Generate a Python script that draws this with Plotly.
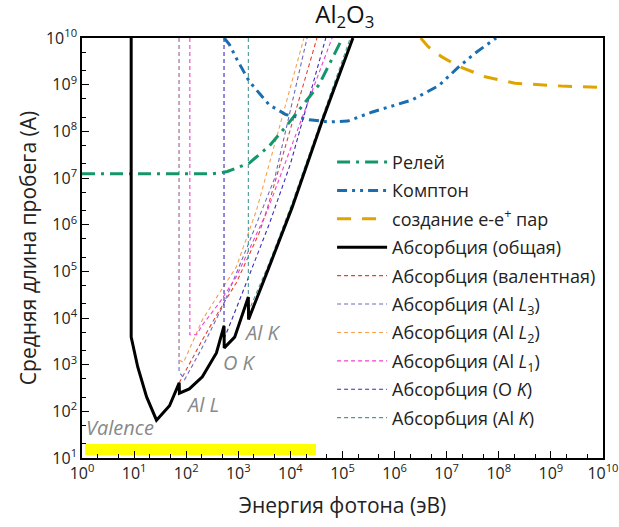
import numpy as np
import plotly.graph_objects as go

# ---- data (log10 of energy in eV, log10 of mean free path in Å) ----
total_logE = [0.944, 0.944, 1.07, 1.24, 1.43, 1.68, 1.866, 1.87, 2.06, 2.31, 2.58, 2.726, 2.73, 2.93, 3.193, 3.197, 3.59, 4.03, 4.61, 5.2]
total_logL = [10.0, 3.59, 2.95, 2.31, 1.81, 2.12, 2.61, 2.39, 2.48, 2.74, 3.25, 3.83, 3.36, 3.59, 4.45, 3.97, 5.09, 6.36, 8.22, 10.0]

rayleigh_logE = [0.0, 2.5, 2.64, 2.79, 3.21, 3.59, 3.92, 4.23, 4.55, 5.0]
rayleigh_logL = [7.09, 7.09, 7.11, 7.14, 7.32, 7.68, 8.11, 8.54, 9.0, 10.0]

compton_logE = [2.73, 2.83, 2.96, 3.21, 3.59, 3.91, 4.36, 4.74, 5.1, 5.56, 6.33, 6.85, 7.23, 7.55, 7.95]
compton_logL = [10.0, 9.86, 9.57, 9.07, 8.57, 8.36, 8.25, 8.20, 8.22, 8.41, 8.67, 8.98, 9.38, 9.68, 10.0]

pair_logE = [6.50, 6.65, 6.9, 7.23, 7.74, 8.31, 9.2, 10.0]
pair_logL = [10.0, 9.81, 9.6, 9.39, 9.17, 9.03, 8.97, 8.94]

val_logE = [1.866, 2.31, 2.64, 2.96, 3.40, 3.56, 4.51]
val_logL = [2.61, 3.53, 4.17, 4.75, 5.82, 6.36, 10.0]

l3_logE = [1.863, 1.863, 1.97, 2.3, 2.7, 3.2, 3.7, 4.32]
l3_logL = [10.0, 2.85, 2.68, 3.35, 4.25, 5.6, 7.0, 10.0]

l2_logE = [1.868, 1.868, 1.95, 2.31, 2.64, 2.96, 3.35, 4.26]
l2_logL = [10.0, 3.10, 3.05, 3.96, 4.54, 5.09, 6.31, 10.0]

l1_logE = [2.07, 2.07, 2.20, 2.31, 2.64, 2.96, 3.21, 3.54, 4.80]
l1_logL = [10.0, 3.64, 3.64, 3.85, 4.33, 4.88, 5.47, 6.25, 10.0]

ok_logE = [2.726, 2.726, 2.96, 3.27, 3.59, 4.0, 4.68]
ok_logL = [10.0, 3.55, 4.2, 5.1, 6.0, 7.3, 10.0]

alk_logE = [3.193, 3.193, 3.59, 4.03, 4.61, 5.15]
alk_logL = [10.0, 4.13, 5.17, 6.45, 8.3, 10.0]

band_logE = [0.06, 4.49]
band_logL = [1.065, 1.30]

x_tick_exp = list(range(0, 11))
y_tick_exp = list(range(1, 11))
x_tick_text = [f"10<sup>{n}</sup>" for n in x_tick_exp]
y_tick_text = [f"10<sup>{n}</sup>" for n in y_tick_exp]

names = {
    "ray": "Релей",
    "comp": "Комптон",
    "pair": "создание e-e<sup>+</sup> пар",
    "tot": "Абсорбция (общая)",
    "val": "Абсорбция (валентная)",
    "l3": "Абсорбция (Al <i>L</i><sub>3</sub>)",
    "l2": "Абсорбция (Al <i>L</i><sub>2</sub>)",
    "l1": "Абсорбция (Al <i>L</i><sub>1</sub>)",
    "ok": "Абсорбция (O <i>K</i>)",
    "alk": "Абсорбция (Al <i>K</i>)",
}

def p10(a):
    return [10 ** v for v in a]

fig = go.Figure()

# yellow band
bx0, bx1 = p10(band_logE)
by0, by1 = p10(band_logL)
fig.add_trace(go.Scatter(x=[bx0, bx1, bx1, bx0, bx0], y=[by0, by0, by1, by1, by0],
                         fill="toself", fillcolor="#ffff00", line=dict(width=0),
                         mode="lines", showlegend=False, hoverinfo="skip"))

thin = dict(width=1.1, dash="4px,3px")
partials = [
    ("val", val_logE, val_logL, "#e8402a", 5),
    ("l3", l3_logE, l3_logL, "#6a6ac0", 6),
    ("l2", l2_logE, l2_logL, "#f5a050", 7),
    ("l1", l1_logE, l1_logL, "#f040d0", 8),
    ("ok", ok_logE, ok_logL, "#3a2ab8", 9),
    ("alk", alk_logE, alk_logL, "#4a9a9a", 10),
]
for key, xe, ye, col, rank in partials:
    fig.add_trace(go.Scatter(x=p10(xe), y=p10(ye), mode="lines", name=names[key], legendgroup=key,
                             line=dict(color=col, **thin), legendrank=rank))

fig.add_trace(go.Scatter(x=p10(rayleigh_logE), y=p10(rayleigh_logL), mode="lines", name=names["ray"],
                         legendgroup="ray",
                         line=dict(color="#14966a", width=3, dash="13px,6px,3px,6px"), legendrank=1))
fig.add_trace(go.Scatter(x=p10(compton_logE), y=p10(compton_logL), mode="lines", name=names["comp"],
                         legendgroup="comp",
                         line=dict(color="#1a6eb0", width=3, dash="10px,5px,3px,5px,3px,5px"), legendrank=2))
fig.add_trace(go.Scatter(x=p10(pair_logE), y=p10(pair_logL), mode="lines", name=names["pair"],
                         legendgroup="pair",
                         line=dict(color="#e0a400", width=3, dash="14px,11px"), legendrank=3))
fig.add_trace(go.Scatter(x=p10(total_logE), y=p10(total_logL), mode="lines", name=names["tot"],
                         legendgroup="tot",
                         line=dict(color="black", width=3), legendrank=4))

grey = "#888888"
labels = [("Valence", 0.73, 1.66), ("Al L", 2.31, 2.14), ("O K", 3.02, 3.04), ("Al K", 3.46, 3.68)]
for t, lx, ly in labels:
    fig.add_annotation(x=lx, y=ly, xref="x", yref="y", text=f"<i>{t}</i>", showarrow=False,
                       font=dict(size=20, color=grey, family="Open Sans"))

fig.update_layout(
    width=619, height=527,
    margin=dict(l=82, r=16, t=38, b=69),
    paper_bgcolor="white", plot_bgcolor="white",
    font=dict(family="Open Sans", color="#222222", size=15),
    title=dict(text="Al<sub>2</sub>O<sub>3</sub>", x=0.557, xanchor="center", y=0.972, yanchor="middle",
               font=dict(size=24, color="#111111")),
    legend=dict(x=0.48, y=0.748, xanchor="left", yanchor="top", bgcolor="rgba(0,0,0,0)",
                font=dict(size=18, color="#222222"), itemwidth=50, tracegroupgap=2,
                traceorder="grouped"),
    showlegend=True,
)
fig.update_xaxes(type="log", range=[0, 10.0005], tickvals=p10(x_tick_exp), ticktext=x_tick_text,
                 automargin=False,
                 ticks="inside", ticklen=7, tickwidth=1.2, tickcolor="black", ticklabeloverflow="allow",
                 minor=dict(ticks="inside", ticklen=4, tickcolor="black", showgrid=False),
                 showline=True, linecolor="black", linewidth=1.5, mirror=True, showgrid=False, zeroline=False,
                 tickfont=dict(size=16, color="#222222"),
                 title=dict(text="Энергия фотона (эВ)", font=dict(size=21, color="#222222"), standoff=15))
fig.update_yaxes(type="log", range=[1, 10], tickvals=p10(y_tick_exp), ticktext=y_tick_text,
                 automargin=False,
                 ticks="inside", ticklen=7, tickwidth=1.2, tickcolor="black",
                 minor=dict(ticks="inside", ticklen=4, tickcolor="black", showgrid=False),
                 showline=True, linecolor="black", linewidth=1.5, mirror=True, showgrid=False, zeroline=False,
                 tickfont=dict(size=16, color="#222222"),
                 title=dict(text="Средняя длина пробега (А)", font=dict(size=21, color="#222222"), standoff=4))

fig.write_html("out.html")
